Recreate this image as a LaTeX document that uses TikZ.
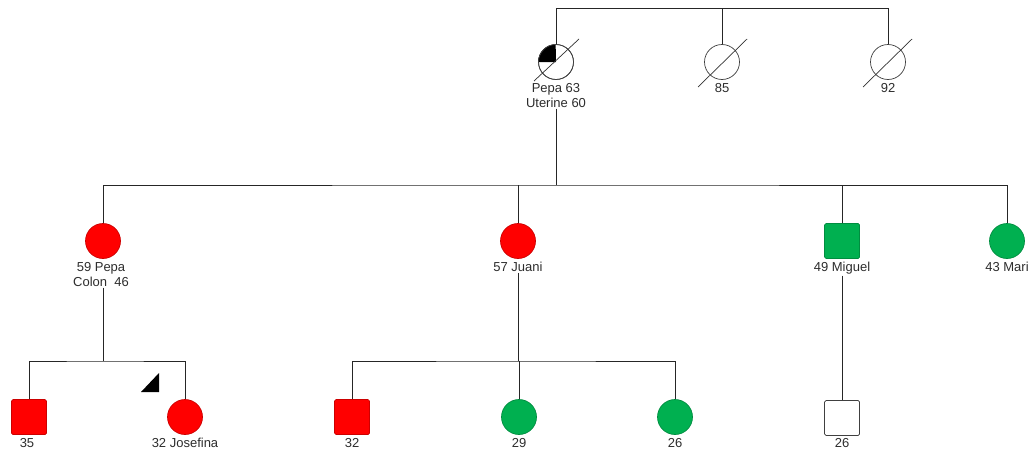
\documentclass[tikz,border=0pt]{standalone}
\usepackage{fontspec}
\setmainfont{Liberation Sans}
\usetikzlibrary{calc}
\definecolor{pred}{RGB}{255,0,0}
\definecolor{pgreen}{RGB}{0,176,80}
\definecolor{txt}{RGB}{45,45,45}
\begin{document}
\begin{tikzpicture}[x=1pt,y=-1pt,
  conn/.style={draw=black!85, line width=0.9pt},
  fem/.style={circle, draw=black!75, line width=0.7pt, minimum size=35pt, inner sep=0pt},
  mal/.style={rectangle, draw=black!75, line width=0.7pt, rounded corners=1.5pt, minimum size=35pt, inner sep=0pt},
  affred/.style={fill=pred, draw=pred!80!black},
  affgreen/.style={fill=pgreen, draw=pgreen!80!black},
  lab/.style={font=\fontsize{13}{15}\selectfont, text=txt, align=center, inner sep=1pt, anchor=north},
  slash/.style={draw=black!80, line width=0.7pt}]
\useasboundingbox[fill=white] (0,0) rectangle (1032,455);
% generation I
\node[fem] (pepa) at (556,62) {};
\node[fem] (g85) at (722,62) {};
\node[fem] (g92) at (888,62) {};
\fill[black] (pepa.center) -- (pepa.west) arc[start angle=180, end angle=90, radius=17.5pt] -- cycle;
\draw[line width=0.7pt, black!75] (pepa.center) circle[radius=17.5pt];
\draw[slash] ($(pepa.center)+(-22,19)$) -- ($(pepa.center)+(23,-23)$);
\draw[slash] ($(g85.center)+(-24,25)$) -- ($(g85.center)+(25,-23)$);
\draw[slash] ($(g92.center)+(-25,25)$) -- ($(g92.center)+(24,-23)$);
\node[lab] (pepalab) at (556,82) {Pepa 63\\Uterine 60};
\node[lab] (lab85) at (722,82) {85};
\node[lab] (lab92) at (888,82) {92};
\coordinate (sib) at (722,8);
\draw[conn] (pepa.north) |- (g92.north |- sib) -- (g92.north);
\draw[conn] (sib) -- (g85.north);
% generation II
\coordinate (bar1) at (556,185);
\node[fem, affred] (p59) at (103,241) {};
\node[fem, affred] (juani) at (518,241) {};
\node[mal, affgreen] (miguel) at (842,241) {};
\node[fem, affgreen] (mari) at (1007,241) {};
\node[lab] (p59lab) at (101,261) {59 Pepa\\Colon\ \ 46};
\node[lab] (juanilab) at (518,261) {57 Juani};
\node[lab] (miguellab) at (842,261) {49 Miguel};
\node[lab] (marilab) at (1007,261) {43 Mari};
\draw[conn] (pepalab.south) -- (bar1);
\draw[conn] (p59.north) |- (bar1) -| (mari.north);
\draw[conn] (juani.north) -- (juani.north |- bar1);
\draw[conn] (miguel.north) -- (miguel.north |- bar1);
% generation III
\coordinate (bar2) at (103,361);
\coordinate (bar3) at (518,361);
\node[mal, affred] (s35) at (29,417) {};
\node[fem, affred] (jos) at (185,417) {};
\node[mal, affred] (s32) at (352,417) {};
\node[fem, affgreen] (c29) at (519,417) {};
\node[fem, affgreen] (c26) at (675,417) {};
\node[mal] (m26) at (842,418) {};
\fill[black] (141,392) -- (159,392) -- (159,373) -- cycle;
\node[lab] (s35lab) at (27,437) {35};
\node[lab] (joslab) at (185,437) {32 Josefina};
\node[lab] (s32lab) at (352,437) {32};
\node[lab] (c29lab) at (519,437) {29};
\node[lab] (c26lab) at (675,437) {26};
\node[lab] (m26lab) at (842,437) {26};
\draw[conn] (bar2 |- p59lab.south) -- (bar2);
\draw[conn] (s35.north) |- (bar2) -| (jos.north);
\draw[conn] (juanilab.south) -- (bar3);
\draw[conn] (s32.north) |- (bar3) -| (c26.north);
\draw[conn] (c29.north) -- (c29.north |- bar3);
\draw[conn] (miguellab.south) -- (m26.north);
\end{tikzpicture}
\end{document}
